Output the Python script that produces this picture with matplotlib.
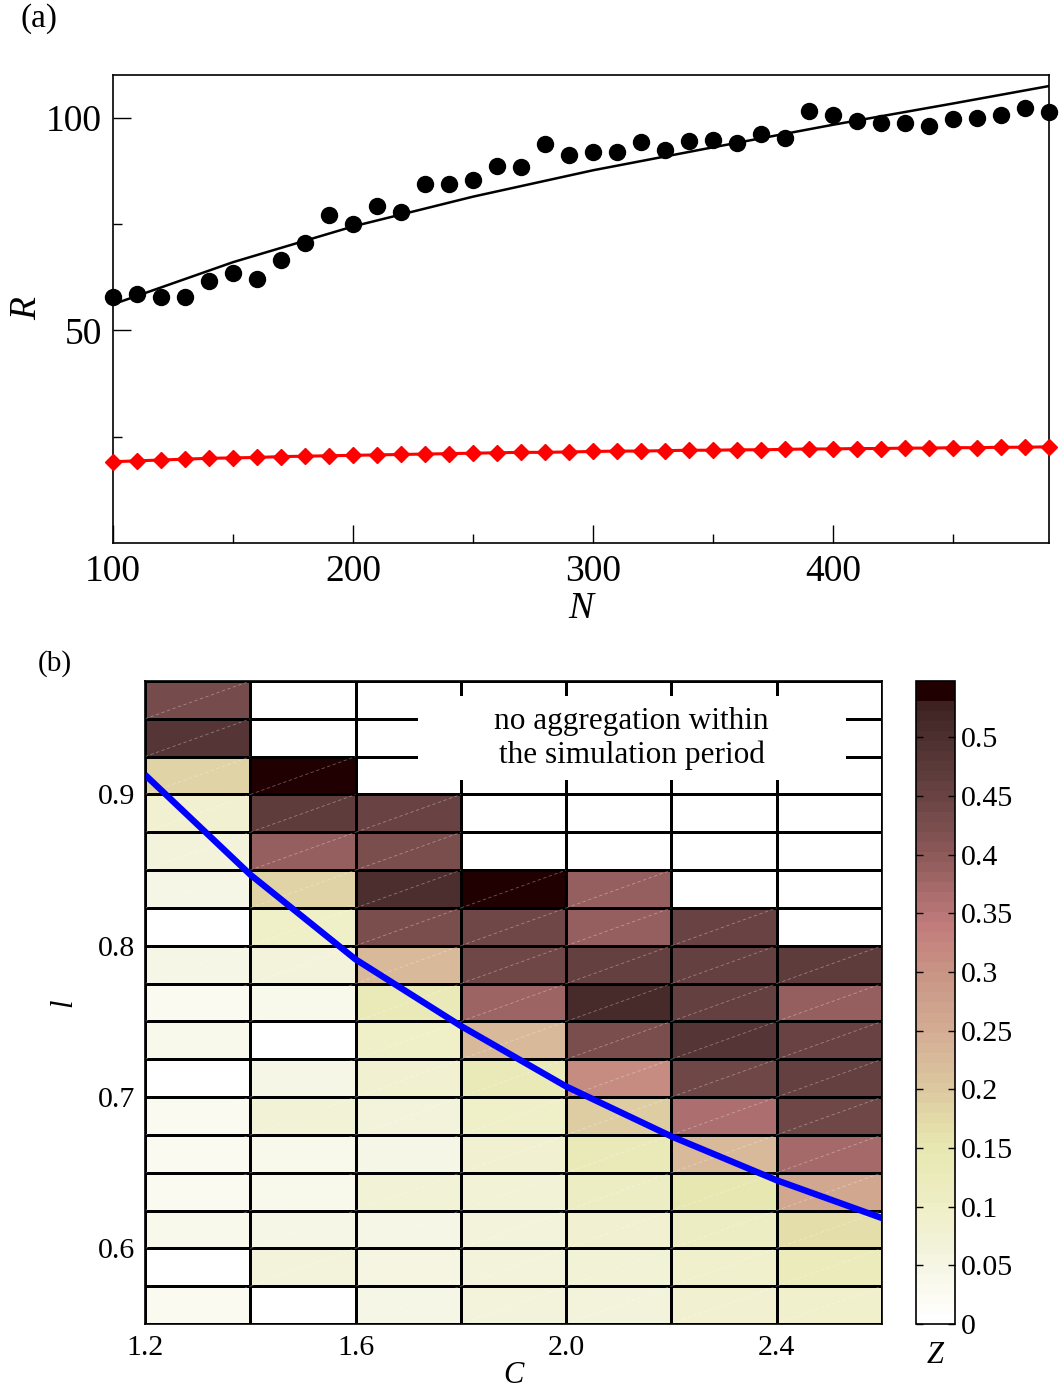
import numpy as np
import matplotlib
matplotlib.use("Agg")
import matplotlib.pyplot as plt
from matplotlib.colors import LinearSegmentedColormap
from matplotlib.patches import Rectangle

plt.rcParams['font.family'] = ['Liberation Serif', 'DejaVu Serif']

# ---- panel (a) data ----
N_sim = [100, 110, 120, 130, 140, 150, 160, 170, 180, 190,
         200, 210, 220, 230, 240, 250, 260, 270, 280, 290,
         300, 310, 320, 330, 340, 350, 360, 370, 380, 390,
         400, 410, 420, 430, 440, 450, 460, 470, 480, 490]
R_black = [57.7, 58.5, 57.7, 57.7, 61.5, 63.4, 62.0, 66.4, 70.4, 77.0,
           74.9, 79.1, 77.9, 84.3, 84.3, 85.4, 88.5, 88.3, 93.8, 91.3,
           92.0, 91.8, 94.3, 92.3, 94.4, 94.7, 94.1, 96.2, 95.3, 101.5,
           100.5, 99.1, 98.6, 98.6, 97.9, 99.7, 99.9, 100.5, 102.3, 101.2]
R_red = [19.1, 19.3, 19.5, 19.7, 19.9, 20.0, 20.1, 20.3, 20.4, 20.5,
         20.6, 20.7, 20.8, 20.9, 21.0, 21.1, 21.2, 21.3, 21.3, 21.4,
         21.5, 21.6, 21.6, 21.7, 21.8, 21.8, 21.9, 21.9, 22.0, 22.1,
         22.1, 22.2, 22.2, 22.3, 22.3, 22.4, 22.4, 22.5, 22.5, 22.6]
N_fit = [100, 150, 200, 250, 300, 350, 400, 450, 490]
R_fit = [56.1, 66.0, 74.4, 81.4, 87.6, 93.0, 98.3, 103.3, 107.4]

# ---- panel (b) data ----
C_edges = [1.2, 1.4, 1.6, 1.8, 2.0, 2.2, 2.4, 2.6]
l_edges = [0.55, 0.575, 0.6, 0.625, 0.65, 0.675, 0.7, 0.725, 0.75,
           0.775, 0.8, 0.825, 0.85, 0.875, 0.9, 0.925, 0.95, 0.975]
# rows from l=0.55 (bottom) to l=0.975 (top), columns C=1.2..2.6
Z = [
    [0.03, 0.00, 0.045, 0.06, 0.06, 0.08, 0.09],
    [0.00, 0.06, 0.055, 0.06, 0.07, 0.09, 0.12],
    [0.035, 0.05, 0.05, 0.065, 0.08, 0.11, 0.17],
    [0.03, 0.04, 0.07, 0.07, 0.11, 0.15, 0.26],
    [0.03, 0.04, 0.05, 0.08, 0.13, 0.23, 0.37],
    [0.03, 0.07, 0.06, 0.10, 0.19, 0.36, 0.44],
    [0.00, 0.05, 0.08, 0.13, 0.31, 0.44, 0.46],
    [0.04, 0.00, 0.10, 0.23, 0.42, 0.48, 0.45],
    [0.03, 0.04, 0.13, 0.38, 0.51, 0.46, 0.39],
    [0.05, 0.06, 0.23, 0.44, 0.46, 0.46, 0.47],
    [0.00, 0.10, 0.42, 0.44, 0.39, 0.45, 0.00],
    [0.05, 0.18, 0.50, 0.545, 0.39, 0.00, 0.00],
    [0.06, 0.39, 0.42, 0.00, 0.00, 0.00, 0.00],
    [0.08, 0.47, 0.45, 0.00, 0.00, 0.00, 0.00],
    [0.18, 0.545, 0.00, 0.00, 0.00, 0.00, 0.00],
    [0.48, 0.00, 0.00, 0.00, 0.00, 0.00, 0.00],
    [0.43, 0.00, 0.00, 0.00, 0.00, 0.00, 0.00],
]
C_line = [1.2, 1.4, 1.6, 1.8, 2.0, 2.2, 2.4, 2.6]
l_line = [0.913, 0.847, 0.791, 0.747, 0.707, 0.674, 0.645, 0.620]

zmax = 0.548
cb_ticks = [0, 0.05, 0.1, 0.15, 0.2, 0.25, 0.3, 0.35, 0.4, 0.45, 0.5]

anchors = [
    (0.00, '#ffffff'), (0.05, '#f5f5e2'), (0.10, '#eeeec6'),
    (0.15, '#e7e7b0'), (0.20, '#dcc8a0'), (0.25, '#d4ac94'),
    (0.30, '#c89484'), (0.34, '#c27c7c'), (0.40, '#8e5a5a'),
    (0.45, '#6a4444'), (0.50, '#4e3030'), (0.531, '#3e2222'),
    (0.532, '#200000'), (zmax, '#200000'),
]
cmap = LinearSegmentedColormap.from_list(
    'zpal', [(v / zmax, c) for v, c in anchors], N=64)

fig = plt.figure(figsize=(10.6, 13.94), dpi=100)

# ================= panel (a) =================
ax1 = fig.add_axes([0.1066, 0.6105, 0.8830, 0.3357])
ax1.plot(N_sim, R_red, '-', color='red', lw=2.2, zorder=3)
ax1.plot(N_sim, R_red, 'D', color='red', ms=8.2, mec='red',
         clip_on=False, zorder=4)
ax1.plot(N_fit, R_fit, '-', color='black', lw=1.8, zorder=3)
ax1.plot(N_sim, R_black, 'o', color='black', ms=11.5,
         clip_on=False, zorder=5)
ax1.set_xlim(100, 490)
ax1.set_ylim(0, 110)
ax1.set_xticks([100, 200, 300, 400])
ax1.set_xticks([150, 250, 350, 450], minor=True)
ax1.set_yticks([50, 100])
ax1.set_yticks([25, 75], minor=True)
ax1.tick_params(axis='both', which='major', direction='in', length=13,
                width=1, labelsize=27, pad=8)
ax1.tick_params(axis='both', which='minor', direction='in', length=6.5,
                width=1)
ax1.tick_params(top=False, right=False, which='both')
for s in ax1.spines.values():
    s.set_linewidth(1.2)
ax1.set_xlabel('N', fontsize=27, fontstyle='italic', labelpad=2)
ax1.set_ylabel('R', fontsize=27, fontstyle='italic', labelpad=1)
fig.text(0.019, 0.987, '(a)', fontsize=24, ha='left', va='center')

# ================= panel (b) =================
ax2 = fig.add_axes([0.1368, 0.0502, 0.6953, 0.4613])
mesh = ax2.pcolormesh(C_edges, l_edges, np.array(Z), cmap=cmap,
                      vmin=0, vmax=zmax, edgecolors='black',
                      linewidth=0.8, zorder=1)
# faint diagonal rendering seams inside coloured cells
Zarr = np.array(Z)
for i in range(len(l_edges) - 1):
    for j in range(len(C_edges) - 1):
        if Zarr[i, j] > 0:
            ax2.plot([C_edges[j], C_edges[j + 1]], [l_edges[i], l_edges[i + 1]],
                     color='white', lw=0.6, ls=(0, (4, 3)), alpha=0.35,
                     zorder=2)

# white box behind the annotation
ax2.add_patch(Rectangle((1.719, 0.9093), 2.531 - 1.719, 0.965 - 0.9093,
                        facecolor='white', edgecolor='none', zorder=3))
ax2.text(2.124, 0.937, 'no aggregation within\nthe simulation period',
         fontsize=22.5, ha='center', va='center', linespacing=1.2,
         zorder=4)

ax2.plot(C_line, l_line, color='blue', lw=4.6, zorder=5,
         solid_capstyle='butt', solid_joinstyle='round')

ax2.set_xlim(1.2, 2.6)
ax2.set_ylim(0.55, 0.975)
ax2.set_xticks([1.2, 1.6, 2.0, 2.4])
ax2.set_xticklabels(['1.2', '1.6', '2.0', '2.4'])
ax2.set_yticks([0.6, 0.7, 0.8, 0.9])
ax2.set_yticklabels(['0.6', '0.7', '0.8', '0.9'])
ax2.tick_params(axis='both', length=0, labelsize=21.5)
ax2.tick_params(axis='x', pad=8)
ax2.tick_params(axis='y', pad=7)
for s in ax2.spines.values():
    s.set_linewidth(1.2)
    s.set_zorder(6)
ax2.set_xlabel('C', fontsize=22, fontstyle='italic', labelpad=0)
ax2.set_ylabel('l', fontsize=22, fontstyle='italic', labelpad=14)
fig.text(0.052, 0.524, '(b)', fontsize=21, ha='center', va='center')

# colour bar
cax = fig.add_axes([0.8642, 0.0502, 0.0368, 0.4613])
cb = fig.colorbar(mesh, cax=cax, ticks=cb_ticks)
cb.set_ticklabels(['%g' % t for t in cb_ticks])
cb.outline.set_linewidth(1.2)
cax.tick_params(direction='in', length=5, width=1, labelsize=21.5,
                left=True, right=True, pad=4)
cax.set_xlabel('Z', fontsize=22, fontstyle='italic', labelpad=12)

fig.savefig('out.png', dpi=100)
